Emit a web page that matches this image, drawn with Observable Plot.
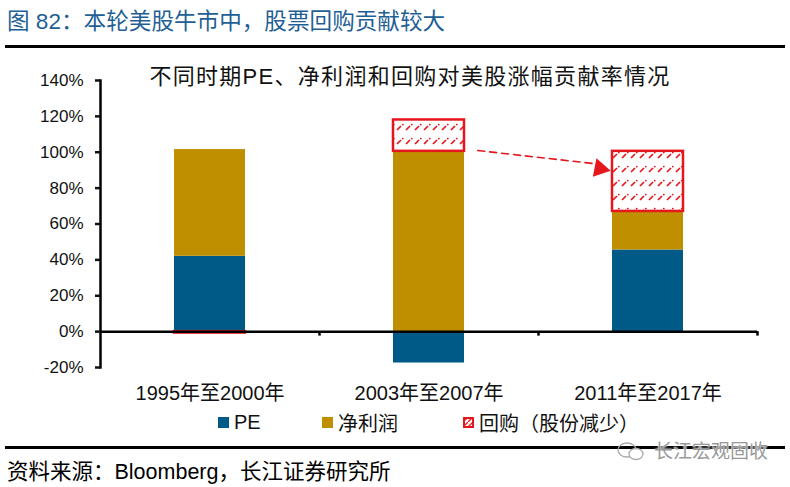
<!DOCTYPE html>
<html><head><meta charset="utf-8">
<script src="https://cdn.jsdelivr.net/npm/d3@7"></script>
<script src="https://cdn.jsdelivr.net/npm/@observablehq/plot@0.6"></script>
<style>
body{margin:0;background:#fff;font-family:"Liberation Sans","Noto Sans CJK SC",sans-serif;}
#wrap{position:relative;width:790px;height:487px;overflow:hidden;background:#fff}
.abs{position:absolute;white-space:nowrap;line-height:1.15}
#title{left:7px;top:9px;font-size:22.6px;color:#1f5f95;}
.hline{position:absolute;left:5px;width:780px;height:3px;background:#000}
#subtitle{left:0;width:790px;text-align:center;top:64px;font-size:22px;letter-spacing:1.3px;color:#111;padding-left:30px;box-sizing:border-box}
#chart{position:absolute;left:0;top:50px}
.leg{position:absolute;top:411px;font-size:20px;color:#111;display:flex;align-items:center;height:22px}
#source{left:7px;top:460px;font-size:21.5px;color:#000}
#wm{left:616px;top:440px;font-size:19px;color:#9a9a9a;text-shadow:0 0 2px #fff,0 0 2px #fff}
</style></head><body>
<svg width="0" height="0" style="position:absolute">
  <defs>
    <pattern id="hatch" patternUnits="userSpaceOnUse" width="9" height="14">
      <rect width="9" height="14" fill="#fff"/>
      <path d="M1,10 L5,6" stroke="#e5161c" stroke-width="1.7"/>
      <circle cx="6.8" cy="4.6" r="0.9" fill="#e5161c"/>
    </pattern>
    <pattern id="hatchLeg" patternUnits="userSpaceOnUse" width="5" height="5">
      <rect width="5" height="5" fill="#fff"/>
      <path d="M0,5 L5,0" stroke="#e5161c" stroke-width="1.3"/>
    </pattern>
  </defs>
</svg>
<div id="wrap">
  <div id="title" class="abs">图 82：本轮美股牛市中，股票回购贡献较大</div>
  <div class="hline" style="top:45px"></div>
  <div id="chart"></div>
  <div id="subtitle" class="abs">不同时期PE、净利润和回购对美股涨幅贡献率情况</div>
  <div id="legend"></div>
  <div class="hline" style="top:446px"></div>
  <div id="wm" class="abs"><svg width="30" height="22" style="vertical-align:-4px;margin-right:8px"><ellipse cx="11" cy="10" rx="9" ry="7" fill="none" stroke="#aaa" stroke-width="1.3"/><ellipse cx="20" cy="14" rx="7" ry="5.5" fill="#fff" stroke="#aaa" stroke-width="1.3"/></svg>长江宏观固收</div>
  <div id="source" class="abs">资料来源：Bloomberg，长江证券研究所</div>
</div>
<script>
const categories = ["1995年至2000年", "2003年至2007年", "2011年至2017年"];
const seriesNames = ["PE", "净利润", "回购（股份减少）"];
const peValues = [42, -17.5, 45.5];
const profitValues = [59.5, 100.5, 21.5];
const buybackValues = [-0.8, 17.5, 33.5];
const yTicks = [-20, 0, 20, 40, 60, 80, 100, 120, 140];
const seriesColors = ["#005a88", "#bf8f00", "url(#hatch)"];
const legendSwatches = ["#005a88", "#bf8f00", "url(#hatchLeg)"];
const arrowNote = [{fromPeriod: categories[1], fromValue: 104, toPeriod: categories[2], toValue: 90.3}];

const red = "#e5161c";
const data = categories.flatMap((c, i) => [
  {period: c, series: seriesNames[0], value: peValues[i]},
  {period: c, series: seriesNames[1], value: profitValues[i]},
  {period: c, series: seriesNames[2], value: buybackValues[i]}
]);

const W = 790, H = 360, mL = 100, mR = 33;
const halfStep = (W - mL - mR) / categories.length / 2;

const chart = Plot.plot({
  width: W, height: H,
  marginTop: 30, marginBottom: 43, marginLeft: mL, marginRight: mR,
  style: {fontFamily: '"Liberation Sans","Noto Sans CJK SC",sans-serif', color: "#111", background: "transparent", overflow: "visible"},
  x: {domain: categories, paddingInner: 0.674, paddingOuter: 0.337, label: null},
  y: {domain: [-20, 140], label: null},
  color: {domain: seriesNames, range: seriesColors},
  marks: [
    Plot.barY(data, Plot.stackY({
      x: "period", y: "value", fill: "series",
      stroke: red, strokeWidth: 2.5,
      strokeOpacity: d => d.series === seriesNames[2] ? 1 : 0
    })),
    Plot.ruleY([0], {stroke: "#000", strokeWidth: 2.5}),
    Plot.ruleX(categories.slice(1), {x: d => d, dx: -halfStep, y1: 0, y2: -2.5, stroke: "#000", strokeWidth: 2.5}),
    Plot.ruleX(categories.slice(2), {x: d => d, dx: halfStep, y1: 0, y2: -2.5, stroke: "#000", strokeWidth: 2.5}),
    Plot.frame({anchor: "left", stroke: "#000", strokeWidth: 2.5}),
    Plot.axisY({ticks: yTicks, tickFormat: d => d + "%", tickSize: 5, tickPadding: 12, fontSize: 17, strokeWidth: 2.5, label: null}),
    Plot.axisX({tickSize: 0, tickPadding: 18, fontSize: 20, label: null}),
    Plot.arrow(arrowNote, {x1: "fromPeriod", y1: "fromValue", x2: "toPeriod", y2: "toValue", bend: 0, headLength: 0, insetStart: 49, insetEnd: 52, stroke: red, strokeWidth: 1.6, strokeDasharray: "7,5"}),
    Plot.dot(arrowNote, {x: "toPeriod", y: "toValue", dx: -48, dy: -1, symbol: "triangle", r: 7, rotate: 101, fill: red, stroke: "none"})
  ]
});
document.getElementById("chart").appendChild(chart);

const legendX = [218, 322, 463];
const legend = document.getElementById("legend");
seriesNames.forEach((s, i) => {
  const item = document.createElement("div");
  item.className = "leg";
  item.style.left = legendX[i] + "px";
  const sw = document.createElementNS("http://www.w3.org/2000/svg", "svg");
  sw.setAttribute("width", 11); sw.setAttribute("height", 11);
  sw.style.marginRight = "5px";
  sw.innerHTML = i === 2
    ? `<rect x="1" y="1" width="9" height="9" fill="${legendSwatches[i]}" stroke="${red}" stroke-width="2"/>`
    : `<rect x="0" y="0" width="11" height="11" fill="${legendSwatches[i]}"/>`;
  item.appendChild(sw);
  item.appendChild(document.createTextNode(s));
  legend.appendChild(item);
});
</script>
</body></html>
